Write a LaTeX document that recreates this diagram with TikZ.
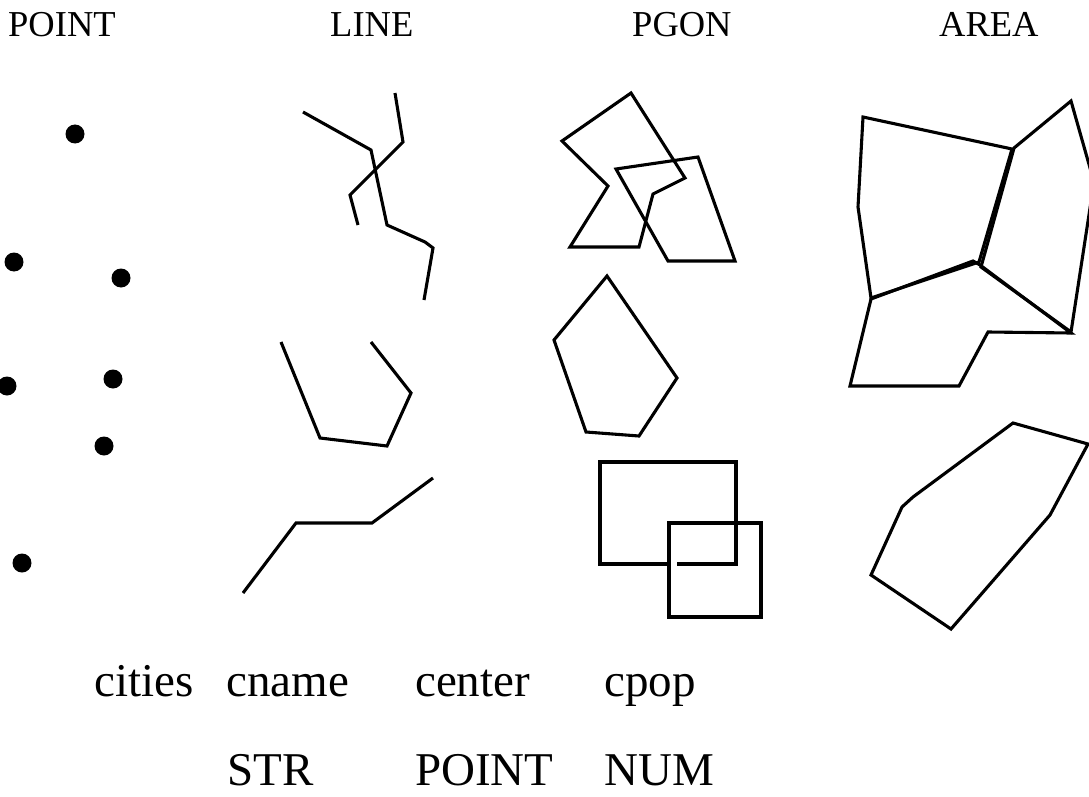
\documentclass[tikz,border=0pt]{standalone}
\usepackage{fontspec}
\setmainfont{Liberation Serif}
\begin{document}
\begin{tikzpicture}[x=1pt,y=-1pt,
  shp/.style={line width=3.1pt,line join=miter,line cap=butt},
  dot/.style={fill=black},
  hdr/.style={anchor=base west,inner sep=0pt,font=\fontsize{36.5}{40}\selectfont},
  lbl/.style={anchor=base west,inner sep=0pt,font=\fontsize{47}{50}\selectfont}]
\useasboundingbox (0,0) rectangle (1089,797);
\clip (0,0) rectangle (1089,797);
% headers
\node[hdr] (hpoint) at (8,37) {POINT};
\node[hdr] (hline) at (330,37) {LINE};
\node[hdr] (hpgon) at (632,37) {PGON};
\node[hdr] (harea) at (939,37) {AREA};
% points
\foreach \p in {(75,134),(14,262),(121,278),(7,386),(113,379),(104,446),(22,563)}
  \fill[dot] \p circle (9.5);
% lines
\draw[shp] (303,112) -- (371,150) -- (387,225) -- (425,242) -- (433,248) -- (424,300);
\draw[shp] (395,93) -- (403,142) -- (350,195) -- (358,225);
\draw[shp] (281,342) -- (320,438) -- (387,446) -- (411,393) -- (371,342);
\draw[shp] (243,593) -- (296,523) -- (372,523) -- (433,478);
% polygons
\draw[shp] (631,93) -- (685,178) -- (653,194) -- (639,247) -- (570,247) -- (608,186) -- (562,141) -- cycle;
\draw[shp] (616,169) -- (698,157) -- (735,261) -- (668,261) -- cycle;
\draw[shp] (607,276) -- (677,378) -- (639,436) -- (586,432) -- (554,340) -- cycle;
\draw[shp] (668,564) -- (600,564) -- (600,462) -- (736,462) -- (736,564) -- (677,564);
\draw[shp] (669,523) rectangle (761,617);
% areas
\draw[shp] (863,117) -- (1012,149) -- (979,262) -- (871,298) -- (858,207) -- cycle;
\draw[shp] (1014,148) -- (1071,101) -- (1094,182) -- (1071,332) -- (981,267) -- cycle;
\draw[shp] (871,299) -- (973,261) -- (980,265) -- (1071,333) -- (988,332) -- (959,386) -- (850,386) -- cycle;
\draw[shp] (1013,423) -- (1088,444) -- (1050,515) -- (951,629) -- (871,575) -- (902,507) -- (913,497) -- cycle;
% labels
\node[lbl] (cities) at (94,696) {cities};
\node[lbl] (cname) at (226,696) {cname};
\node[lbl] (center) at (415,696) {center};
\node[lbl] (cpop) at (604,696) {cpop};
\node[lbl] (tstr) at (227,785) {STR};
\node[lbl] (tpoint) at (415,785) {POINT};
\node[lbl] (tnum) at (604,785) {NUM};
\end{tikzpicture}
\end{document}
